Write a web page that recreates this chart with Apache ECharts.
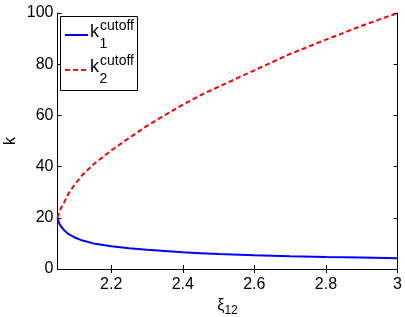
<!DOCTYPE html>
<html>
<head>
<meta charset="utf-8">
<script src="https://cdn.jsdelivr.net/npm/echarts@6/dist/echarts.min.js"></script>
<style>html,body{margin:0;padding:0;background:#fff}#c{width:405px;height:317px}</style>
</head>
<body>
<div id="c"></div>
<script>
var xi = [2.05, 2.055, 2.06, 2.07, 2.08, 2.09, 2.1, 2.12, 2.15, 2.2, 2.25, 2.3, 2.35, 2.4, 2.45, 2.5, 2.6, 2.7, 2.8, 2.9, 3.0];
var k1 = [20, 17.8, 16.6, 14.9, 13.7, 12.9, 12.2, 11.1, 10.0, 8.9, 8.1, 7.5, 7.0, 6.5, 6.2, 5.9, 5.4, 5.0, 4.7, 4.45, 4.2];
var k2 = [20, 22.3, 23.9, 26.4, 29.3, 31.4, 33.3, 36.8, 40.8, 46.3, 51.2, 55.9, 60.1, 64.2, 67.9, 71.2, 77.6, 84.0, 89.6, 95.0, 100];
var xTicks = [2.2, 2.4, 2.6, 2.8, 3];
var yTicks = [0, 20, 40, 60, 80, 100];

var FONT = 'Liberation Sans';
var chart = echarts.init(document.getElementById('c'), null, {renderer: 'canvas'});
function pairs(xs, ys) { return xs.map(function (x, i) { return [x, ys[i]]; }); }
var axLine = {show: true, lineStyle: {color: '#000', width: 1}};
var tick = {show: true, inside: true, length: 4, lineStyle: {color: '#000'}};
chart.setOption({
  animation: false,
  grid: {left: 57.5, right: 7.5, top: 13, bottom: 48, containLabel: false, outerBoundsMode: 'none'},
  xAxis: [{
    type: 'value', min: 2.05, max: 3, position: 'bottom',
    axisLine: axLine,
    axisTick: Object.assign({}, tick, {customValues: xTicks}),
    axisLabel: {customValues: xTicks, color: '#000', fontSize: 16, fontFamily: FONT, margin: 8,
      formatter: function (v) { return String(+v.toFixed(1)); }},
    splitLine: {show: false},
    name: '{a|ξ}{b|12}', nameLocation: 'middle', nameGap: 25,
    nameTextStyle: {rich: {a: {fontSize: 16, fontFamily: FONT, color: '#000'}, b: {fontSize: 12, fontFamily: FONT, color: '#000', padding: [10, 0, 0, 0]}}}
  }, {
    type: 'value', min: 2.05, max: 3, position: 'top',
    axisLine: axLine,
    axisTick: Object.assign({}, tick, {customValues: xTicks}),
    axisLabel: {show: false}, splitLine: {show: false}
  }],
  yAxis: [{
    type: 'value', min: 0, max: 100, interval: 20, position: 'left',
    axisLine: axLine, axisTick: tick,
    axisLabel: {color: '#000', fontSize: 16, fontFamily: FONT, margin: 4},
    splitLine: {show: false},
    name: 'k', nameLocation: 'middle', nameGap: 39, nameMoveOverlap: false,
    nameTextStyle: {fontSize: 16, fontFamily: FONT, color: '#000'}
  }, {
    type: 'value', min: 0, max: 100, interval: 20, position: 'right',
    axisLine: axLine, axisTick: tick,
    axisLabel: {show: false}, splitLine: {show: false}
  }],
  series: [{
    name: 'k1', type: 'line', data: pairs(xi, k1), showSymbol: false,
    smooth: false,
    lineStyle: {color: '#0000ff', width: 2}
  }, {
    name: 'k2', type: 'line', data: pairs(xi, k2), showSymbol: false,
    smooth: false,
    lineStyle: {color: '#ff0000', width: 2, type: [5, 3]}
  }],
  graphic: [
    {type: 'rect', shape: {x: 60.5, y: 16.5, width: 77, height: 74}, style: {fill: '#fff', stroke: '#000', lineWidth: 1}, z: 10},
    {type: 'line', shape: {x1: 65, y1: 35, x2: 88, y2: 35}, style: {stroke: '#0000ff', lineWidth: 2}, z: 11},
    {type: 'line', shape: {x1: 65, y1: 70, x2: 88, y2: 70}, style: {stroke: '#ff0000', lineWidth: 2, lineDash: [5, 3]}, z: 11},
    {type: 'text', x: 90, y: 41, style: {text: 'k', font: '18px "Liberation Sans"', fill: '#000', verticalAlign: 'bottom'}, z: 11},
    {type: 'text', x: 100, y: 33, style: {text: 'cutoff', font: '14px "Liberation Sans"', fill: '#000', verticalAlign: 'bottom'}, z: 11},
    {type: 'text', x: 99.5, y: 51, style: {text: '1', font: '14px "Liberation Sans"', fill: '#000', verticalAlign: 'bottom'}, z: 11},
    {type: 'text', x: 90, y: 76, style: {text: 'k', font: '18px "Liberation Sans"', fill: '#000', verticalAlign: 'bottom'}, z: 11},
    {type: 'text', x: 100, y: 68, style: {text: 'cutoff', font: '14px "Liberation Sans"', fill: '#000', verticalAlign: 'bottom'}, z: 11},
    {type: 'text', x: 99.5, y: 86, style: {text: '2', font: '14px "Liberation Sans"', fill: '#000', verticalAlign: 'bottom'}, z: 11}
  ]
});
</script>
</body>
</html>
